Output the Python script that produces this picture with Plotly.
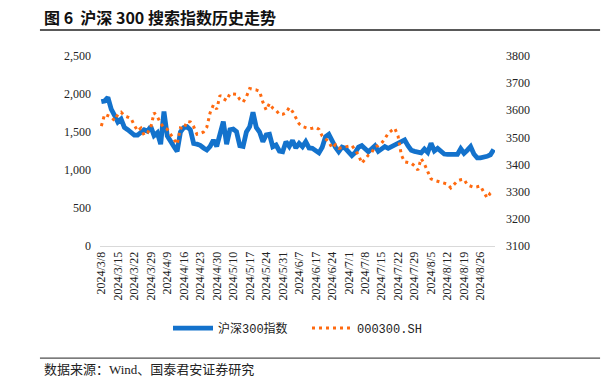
import plotly.graph_objects as go

# Trading days 2024/3/8 - 2024/8/30 (tick labels every 5th trading day)
tick_labels = ["2024/3/8", "2024/3/15", "2024/3/22", "2024/3/29", "2024/4/9", "2024/4/16",
               "2024/4/23", "2024/4/30", "2024/5/10", "2024/5/17", "2024/5/24", "2024/5/31",
               "2024/6/7", "2024/6/17", "2024/6/24", "2024/7/1", "2024/7/8", "2024/7/15",
               "2024/7/22", "2024/7/29", "2024/8/5", "2024/8/12", "2024/8/19", "2024/8/26"]

search_index = [1899, 1908, 1955, 1800, 1720, 1630, 1670, 1560, 1530, 1490,
                1460, 1460, 1490, 1530, 1510, 1570, 1452, 1490, 1340, 1770,
                1450, 1370, 1310, 1245, 1500, 1557, 1570, 1530, 1350, 1340,
                1325, 1290, 1263, 1310, 1395, 1310, 1470, 1636, 1340, 1530,
                1539, 1504, 1320, 1310, 1500, 1570, 1760, 1560, 1500, 1372,
                1461, 1470, 1307, 1329, 1250, 1241, 1372, 1310, 1390, 1290,
                1350, 1307, 1372, 1290, 1285, 1260, 1225, 1300, 1438, 1470,
                1380, 1300, 1241, 1300, 1285, 1230, 1190, 1230, 1300, 1320,
                1285, 1241, 1280, 1320, 1245, 1280, 1307, 1285, 1310, 1330,
                1351, 1382, 1395, 1320, 1260, 1245, 1232, 1225, 1276, 1232,
                1351, 1250, 1285, 1241, 1210, 1206, 1206, 1200, 1205, 1280,
                1220, 1260, 1307, 1210, 1160, 1160, 1165, 1180, 1200, 1270]

csi300_close = [3542, 3585, 3580, 3575, 3562, 3585, 3593, 3580, 3575, 3570,
                3545, 3524, 3534, 3508, 3517, 3537, 3591, 3576, 3552, 3535,
                3530, 3510, 3493, 3475, 3535, 3531, 3559, 3557, 3540, 3512,
                3515, 3520, 3538, 3591, 3620, 3604, 3655, 3643, 3636, 3661,
                3660, 3659, 3640, 3630, 3650, 3680, 3677, 3675, 3670, 3630,
                3601, 3625, 3608, 3600, 3585, 3585, 3591, 3610, 3595, 3575,
                3550, 3540, 3535, 3532, 3534, 3537, 3530, 3505, 3495, 3484,
                3461, 3473, 3460, 3462, 3465, 3468, 3470, 3453, 3435, 3405,
                3420, 3435, 3444, 3466, 3470, 3479, 3495, 3515, 3525, 3534,
                3505, 3435, 3410, 3407, 3405, 3395, 3380, 3422, 3402, 3374,
                3347, 3342, 3338, 3334, 3330, 3328, 3314, 3326, 3340, 3344,
                3346, 3325, 3320, 3316, 3318, 3321, 3298, 3277, 3295, 3300]

x = list(range(len(search_index)))
tick_pos = [i * 5 for i in range(len(tick_labels))]

serif = "Liberation Serif, Times New Roman, serif"
cjk = "Noto Sans CJK SC"

fig = go.Figure()
fig.add_trace(go.Scatter(x=x, y=search_index, name="沪深300指数  ", mode="lines",
                         line=dict(color="#1372CC", width=4.8), yaxis="y"))
fig.add_trace(go.Scatter(x=x, y=csi300_close, name="000300.SH", mode="lines",
                         line=dict(color="#FF6A10", width=3, dash="3px,4px"), yaxis="y2"))

fig.update_layout(
    width=614, height=378,
    margin=dict(l=100, r=119, t=56, b=132, autoexpand=False),
    paper_bgcolor="white", plot_bgcolor="white",
    showlegend=True,
    legend=dict(orientation="h", x=0.5, xanchor="center", yref="container", y=0.132,
                yanchor="middle",
                font=dict(family="Liberation Mono, " + cjk, size=12, color="#222"),
                itemwidth=40, tracegroupgap=0),
    xaxis=dict(range=[-0.4, 119.4], tickmode="array", tickvals=tick_pos, ticktext=tick_labels,
               tickangle=-90, tickfont=dict(family=serif, size=12, color="#222"),
               showgrid=False, zeroline=False, showline=True, linecolor="#d9d9d9", linewidth=1,
               ticks="", automargin=False),
    yaxis=dict(range=[0, 2500], tickvals=[0, 500, 1000, 1500, 2000, 2500], tickformat=",d",
               tickfont=dict(family=serif, size=12, color="#222"), showgrid=False,
               zeroline=False, showline=False, ticks="", ticklabelstandoff=8, automargin=False),
    yaxis2=dict(range=[3100, 3800], tickvals=[3100, 3200, 3300, 3400, 3500, 3600, 3700, 3800],
                tickformat="d", overlaying="y", side="right",
                tickfont=dict(family=serif, size=12, color="#222"), showgrid=False,
                zeroline=False, showline=False, ticks="", ticklabelstandoff=10, automargin=False),
    shapes=[
        dict(type="line", xref="paper", yref="paper", x0=-0.152, x1=1.266, y0=1.137, y1=1.137,
             line=dict(color="#222", width=1.5)),
        dict(type="line", xref="paper", yref="paper", x0=-0.152, x1=1.266, y0=-0.59, y1=-0.59,
             line=dict(color="#222", width=1)),
    ],
    annotations=[
        dict(text="<b>图 6  沪深 300 搜索指数历史走势</b>", xref="paper", yref="paper",
             x=-0.148, y=1.205, xanchor="left", yanchor="middle", showarrow=False,
             font=dict(family=cjk, size=16, color="#111")),
        dict(text="数据来源：Wind、国泰君安证券研究", xref="paper", yref="paper",
             x=-0.148, y=-0.65, xanchor="left", yanchor="middle", showarrow=False,
             font=dict(family=serif + ", " + cjk, size=13, color="#222")),
    ],
)

fig.write_html("out.html", config={"displayModeBar": False},
               post_script="document.body.style.margin='0';document.body.style.overflow='hidden';")
